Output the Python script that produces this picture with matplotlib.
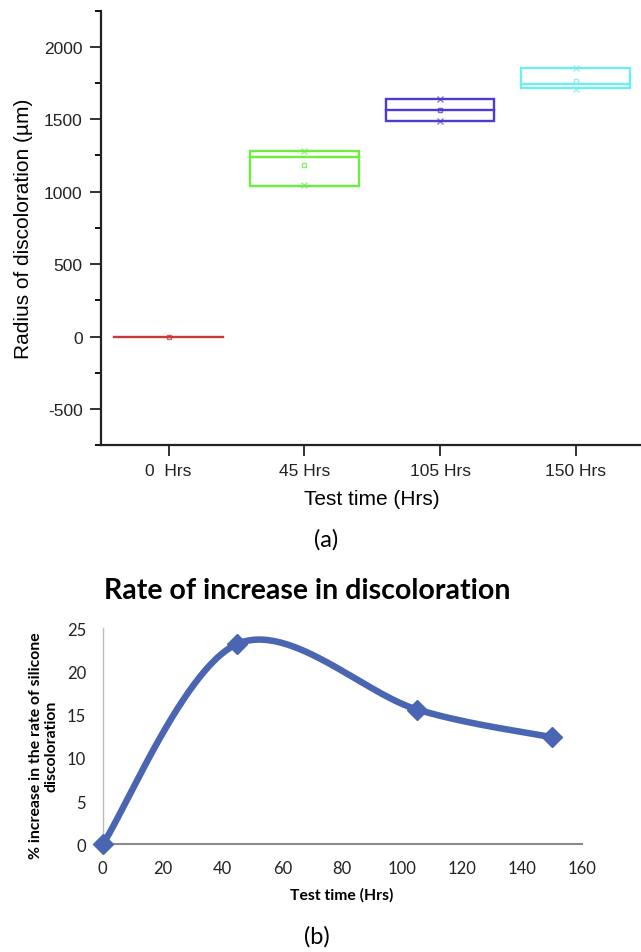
import numpy as np
import matplotlib
matplotlib.use("Agg")
import matplotlib.pyplot as plt
from matplotlib.patches import Rectangle

plt.rcParams["axes.unicode_minus"] = False

# ---- panel (a): box chart of discoloration radius ----
groups = ["0  Hrs", "45 Hrs", "105 Hrs", "150 Hrs"]
box_lo = [0, 1040, 1490, 1713]
box_hi = [0, 1282, 1640, 1856]
medians = [0, 1242, 1561, 1745]
means = [0, 1186, 1563, 1766]
mins = [0, 1043, 1488, 1709]
maxs = [0, 1282, 1640, 1856]
colors = ["#c83a3a", "#6cee3e", "#4a3ad6", "#6eeeee"]

# ---- panel (b): rate of increase ----
hours = [0, 45, 105, 150]
rate = [0, 23.2, 15.6, 12.4]


def smooth_curve(x, y, sx, sy, n=60):
    """Excel-style smoothed line (Catmull-Rom bezier) computed in pixel space."""
    P = np.column_stack([np.asarray(x) * sx, np.asarray(y) * sy])
    P = np.vstack([P[0], P, P[-1]])
    out = []
    t = np.linspace(0, 1, n)[:, None]
    for i in range(1, len(P) - 2):
        p0, p1, p2, p3 = P[i - 1], P[i], P[i + 1], P[i + 2]
        c1 = p1 + (p2 - p0) / 6
        c2 = p2 - (p3 - p1) / 6
        seg = ((1 - t) ** 3) * p1 + 3 * ((1 - t) ** 2) * t * c1 \
            + 3 * (1 - t) * t ** 2 * c2 + t ** 3 * p2
        out.append(seg)
    out = np.vstack(out)
    return out[:, 0] / sx, out[:, 1] / sy


W, H = 641, 953
fig = plt.figure(figsize=(W / 100, H / 100), dpi=100)

# top panel
ax = fig.add_axes([100.7 / W, 1 - 446.3 / H, (643.6 - 100.7) / W, (446.3 - 11.5) / H])
arial = "Liberation Sans"
bw = 0.8
for i, g in enumerate(groups):
    xc = i + 1
    c = colors[i]
    if box_hi[i] - box_lo[i] > 0:
        ax.add_patch(Rectangle((xc - bw / 2, box_lo[i]), bw, box_hi[i] - box_lo[i],
                               fill=False, edgecolor=c, lw=1.7))
    ax.plot([xc - bw / 2, xc + bw / 2], [medians[i], medians[i]], color=c, lw=1.7)
    ax.plot([xc], [means[i]], marker="s", ms=3.5, mfc="none", mec=c, mew=1.0, alpha=0.8)
    if maxs[i] > mins[i]:
        ax.plot([xc, xc], [mins[i], maxs[i]], ls="none", marker="x", ms=5, color=c,
                mew=1.0, alpha=0.7)

ax.set_xlim(0.5, 4.5)
ax.set_ylim(-750, 2250)
ax.set_xticks(range(1, 5))
ax.set_xticklabels(groups, fontfamily=arial, fontsize=12.5)
ax.set_yticks(np.arange(-500, 2001, 500))
ax.set_yticks(np.arange(-750, 2251, 250), minor=True)
for lab in ax.get_yticklabels():
    lab.set_fontfamily(arial)
    lab.set_fontsize(12.5)
ax.tick_params(axis="both", which="major", length=8, width=1.3, direction="out", pad=5,
               colors="#222222")
ax.tick_params(axis="y", which="minor", length=4, width=1.3, direction="out")
ax.tick_params(axis="x", which="minor", length=0)
for s in ["top", "right"]:
    ax.spines[s].set_visible(False)
for s in ["left", "bottom"]:
    ax.spines[s].set_linewidth(1.6)
    ax.spines[s].set_color("#222222")
ax.set_ylabel("Radius of discoloration (\u00b5m)", fontfamily=arial, fontsize=15, labelpad=8)
ax.set_xlabel("Test time (Hrs)", fontfamily=arial, fontsize=15, labelpad=8)
fig.text(326 / W, 1 - 540 / H, "(a)", ha="center", va="center", fontfamily="Lato", fontsize=17)

# bottom panel
ax2 = fig.add_axes([102.7 / W, 1 - 845.3 / H, 479 / W, 216 / H])
sx, sy = 479 / 160, 216 / 25
cx, cy = smooth_curve(hours, rate, sx, sy)
blue = "#4a66b3"
ax2.plot(cx, cy, color=blue, lw=4.7, solid_capstyle="round", zorder=3)
ax2.plot(hours, rate, ls="none", marker="D", ms=10, color=blue, zorder=4)
ax2.set_xlim(0, 160)
ax2.set_ylim(0, 25)
ax2.set_xticks(np.arange(0, 161, 20))
ax2.set_yticks(np.arange(0, 26, 5))
ax2.tick_params(length=0, labelsize=12, colors="#222222")
ax2.tick_params(axis="y", pad=12)
ax2.tick_params(axis="x", pad=11)
for lab in ax2.get_xticklabels() + ax2.get_yticklabels():
    lab.set_fontfamily("Lato")
for s in ["top", "right"]:
    ax2.spines[s].set_visible(False)
ax2.spines["left"].set_color("#bdbdbd")
ax2.spines["left"].set_linewidth(1.0)
ax2.spines["bottom"].set_color("#8a8a8a")
ax2.spines["bottom"].set_linewidth(1.5)
ax2.patch.set_alpha(0)
for ln in ax2.lines:
    ln.set_clip_on(False)

fig.text(44 / W, 1 - 746 / H, "% increase in the rate of silicone\ndiscoloration",
         rotation=90, ha="center", va="center", multialignment="center",
         fontfamily="Lato", fontweight="bold", fontsize=11.3, linespacing=1.15)
fig.text(342 / W, 1 - 895 / H, "Test time (Hrs)", ha="center", va="center",
         fontfamily="Lato", fontweight="bold", fontsize=11.3)
fig.text(307.5 / W, 1 - 591 / H, "Rate of increase in discoloration", ha="center",
         va="center", fontfamily="Lato", fontweight="bold", fontsize=20.5)
fig.text(317 / W, 1 - 937 / H, "(b)", ha="center", va="center", fontfamily="Lato",
         fontsize=17)

fig.savefig("out.png", dpi=100)
